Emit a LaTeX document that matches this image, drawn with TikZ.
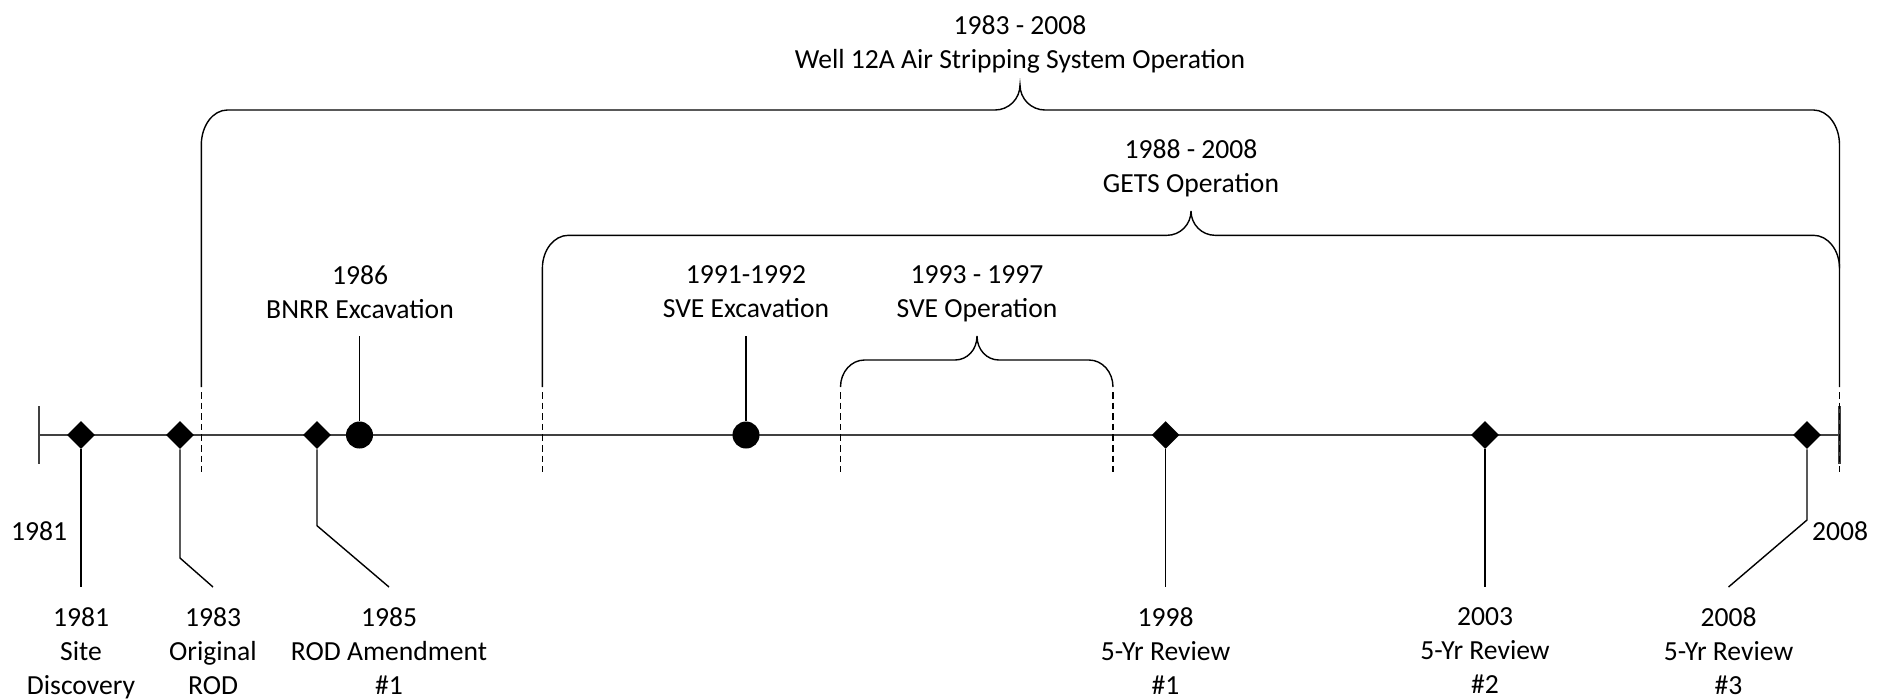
\documentclass[tikz,border=0pt]{standalone}
\usepackage{fontspec}
\setmainfont{Carlito}
\usetikzlibrary{shapes.geometric}
\begin{document}
\begin{tikzpicture}[x=0.5pt,y=-0.5pt,
  lbl/.style={font=\fontsize{13.8}{17}\selectfont, align=center, inner sep=0pt, anchor=north},
  ms/.style={diamond, fill=black, inner sep=0pt, minimum width=14pt, minimum height=14pt},
  dot/.style={circle, fill=black, inner sep=0pt, minimum size=13.5pt},
  axis/.style={line width=1.2pt, draw=black!75},
  lead/.style={line width=0.7pt},
  brk/.style={line width=0.7pt},
  dsh/.style={line width=0.7pt, dash pattern=on 3.3pt off 2pt}
]
\useasboundingbox (0,0) rectangle (1890,698);

% axis
\coordinate (s) at (39,435);
\coordinate (e) at (1839.5,435);
\draw[axis] (s) -- (e);
\draw[axis] (39,406) -- (39,464);
\draw[axis] (1839.5,406) -- (1839.5,464);

% dashed range markers
\foreach \x in {201.3,542.4,840.5,1113,1839.5}
  \draw[dsh] (\x,392) -- (\x,472);

% brackets
\draw[brk] (201.3,387) -- (201.3,145) .. controls (201.3,125.7) and (212.9,110) .. (227.3,110)
  -- (995,110) .. controls (1008.8,110) and (1020,98.8) .. (1020,85)
  .. controls (1020,98.8) and (1031.2,110) .. (1045,110)
  -- (1813.5,110) .. controls (1827.9,110) and (1839.5,125.7) .. (1839.5,145) -- (1839.5,387);
\draw[brk] (542.4,387) -- (542.4,268.3) .. controls (542.4,250) and (554,235.3) .. (568.4,235.3)
  -- (1167,235.3) .. controls (1180.2,235.3) and (1191,224.5) .. (1191,211)
  .. controls (1191,224.5) and (1201.8,235.3) .. (1215,235.3)
  -- (1813.5,235.3) .. controls (1827.9,235.3) and (1839.5,250) .. (1839.5,268.3);
\draw[brk] (840.5,387) .. controls (840.5,372) and (851.2,360) .. (864.5,360)
  -- (955,360) .. controls (967.1,360) and (977,349.9) .. (977,336)
  .. controls (977,349.9) and (986.9,360) .. (999,360)
  -- (1089,360) .. controls (1102.3,360) and (1113,372) .. (1113,387);

% markers
\node[ms] (m81) at (81,435) {};
\node[ms] (m83) at (180,435) {};
\node[ms] (m85) at (317,435) {};
\node[ms] (m98) at (1165.6,435) {};
\node[ms] (m03) at (1485,435) {};
\node[ms] (m08) at (1807,435) {};
\node[dot] (d86) at (359.5,435) {};
\node[dot] (d91) at (746,435) {};

% leader coordinates
\coordinate (l81) at (81,587);
\coordinate (k83) at (180,558);
\coordinate (l83) at (213,587);
\coordinate (k85) at (317,525.7);
\coordinate (l85) at (389,587);
\coordinate (l98) at (1165.6,587);
\coordinate (l03) at (1485,587);
\coordinate (k08) at (1807,520);
\coordinate (l08) at (1728.5,587);
\coordinate (t86) at (359.5,336);
\coordinate (t91) at (746,336);

\draw[lead] (m81) -- (l81);
\draw[lead] (m83) -- (k83) -- (l83);
\draw[lead] (m85) -- (k85) -- (l85);
\draw[lead] (m98) -- (l98);
\draw[lead] (m03) -- (l03);
\draw[lead] (m08) -- (k08) -- (l08);
\draw[lead] (d86) -- (t86);
\draw[lead] (d91) -- (t91);

% labels
\node[lbl, anchor=center] (y81) at (39,531) {1981};
\node[lbl, anchor=center] (y08) at (1840,531) {2008};
\node[lbl] (b81) at (81,607.5) {1981\\Site\\Discovery};
\node[lbl] (b83) at (213,607.5) {1983\\Original\\ROD};
\node[lbl] (b85) at (389,607.5) {1985\\ROD Amendment\\\#1};
\node[lbl] (b98) at (1165.6,607.5) {1998\\5-Yr Review\\\#1};
\node[lbl] (b03) at (1485,607.5) {2003\\5-Yr Review\\\#2};
\node[lbl] (b08) at (1728.5,607.5) {2008\\5-Yr Review\\\#3};
\node[lbl] (u86) at (360,265.5) {1986\\BNRR Excavation};
\node[lbl] (u91) at (746,265.5) {1991-1992\\SVE Excavation};
\node[lbl] (u93) at (977,265.5) {1993 - 1997\\SVE Operation};
\node[lbl] (u88) at (1191,138.8) {1988 - 2008\\GETS Operation};
\node[lbl] (u83) at (1020,14.8) {1983 - 2008\\Well 12A Air Stripping System Operation};
\end{tikzpicture}
\end{document}
